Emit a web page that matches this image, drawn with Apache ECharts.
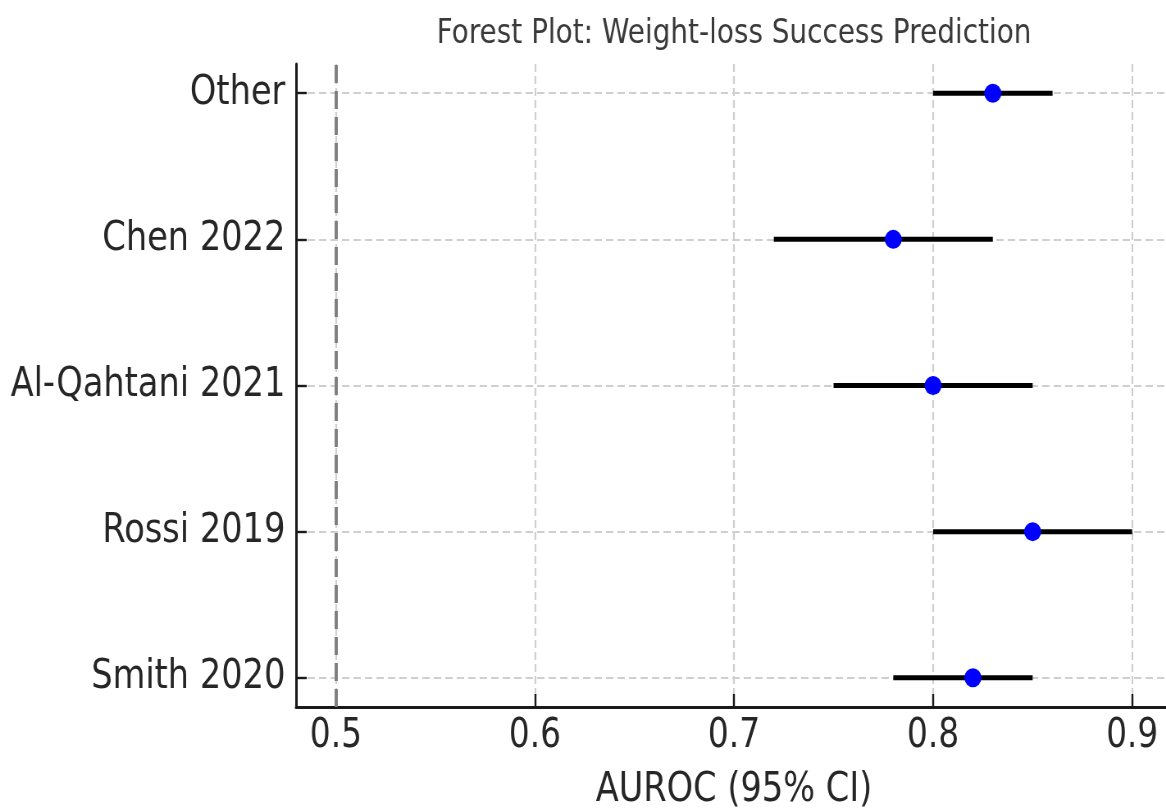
<!DOCTYPE html>
<html>
<head>
<meta charset="utf-8">
<title>Forest Plot: Weight-loss Success Prediction</title>
<script src="https://cdn.jsdelivr.net/npm/echarts@6/dist/echarts.min.js"></script>
<style>
  html, body { margin: 0; padding: 0; background: #fff; overflow: hidden; }
  /* The plot is laid out on a wider canvas and then condensed horizontally */
  #frame { width: 1166px; height: 808px; overflow: hidden; position: relative; }
  #chart { width: 1422px; height: 808px; transform: scaleX(0.82); transform-origin: 0 0; }
</style>
</head>
<body>
<div id="frame"><div id="chart"></div></div>
<script>
// Studies listed bottom-to-top along the y axis
const studies = ['Smith 2020', 'Rossi 2019', 'Al-Qahtani 2021', 'Chen 2022', 'Other'];
const auroc   = [0.82, 0.85, 0.80, 0.78, 0.83];
const ciLow   = [0.78, 0.80, 0.75, 0.72, 0.80];
const ciHigh  = [0.85, 0.90, 0.85, 0.83, 0.86];
const xTicks  = [0.5, 0.6, 0.7, 0.8, 0.9];
const yTicks  = [0, 1, 2, 3, 4];
const chanceLevel = 0.5;

const SX = 0.82;            // horizontal condensing applied to #chart
const FONT = 'DejaVu Sans';

const intervals = studies.map((s, i) => [ciLow[i], ciHigh[i], i]);
const points = studies.map((s, i) => [auroc[i], i]);

const chart = echarts.init(document.getElementById('chart'), null, { renderer: 'canvas' });

chart.setOption({
  animation: false,
  backgroundColor: '#ffffff',
  title: {
    text: 'Forest Plot: Weight-loss Success Prediction',
    left: 734 / SX,
    textAlign: 'center',
    top: 17,
    padding: 0,
    textStyle: { fontFamily: FONT, fontSize: 34, fontWeight: 'normal', color: '#3a3a3a' }
  },
  grid: {
    left: 296 / SX,
    top: 64,
    width: 876 / SX,
    height: 643,
    containLabel: false,
    outerBoundsMode: 'none'
  },
  xAxis: {
    type: 'value',
    min: 0.48,
    max: 0.92,
    name: 'AUROC (95% CI)',
    nameLocation: 'middle',
    nameGap: 63,
    nameTextStyle: { fontFamily: FONT, fontSize: 41, color: '#262626' },
    axisLine: { show: true, onZero: false, lineStyle: { color: '#1a1a1a', width: 3 } },
    axisTick: { show: true, inside: true, length: 13, customValues: xTicks,
                lineStyle: { color: '#1a1a1a', width: 2.4 } },
    axisLabel: { show: true, customValues: xTicks, margin: 10,
                 fontFamily: FONT, fontSize: 40, color: '#262626',
                 formatter: v => Number(v).toFixed(1) },
    splitLine: { show: true, lineStyle: { color: '#cfcfcf', width: 2.2, type: [8, 4] } }
  },
  yAxis: {
    type: 'value',
    min: -0.2,
    max: 4.2,
    axisLine: { show: true, onZero: false, lineStyle: { color: '#1a1a1a', width: 3 } },
    axisTick: { show: true, inside: true, length: 13, customValues: yTicks,
                lineStyle: { color: '#1a1a1a', width: 2.4 } },
    axisLabel: { show: true, customValues: yTicks, margin: 13, padding: [5, 0, 0, 0],
                 fontFamily: FONT, fontSize: 41, color: '#262626',
                 formatter: v => studies[Math.round(v)] },
    splitLine: { show: true, lineStyle: { color: '#cfcfcf', width: 1.8, type: [9, 5] } }
  },
  series: [
    {
      // 95% confidence intervals as horizontal bars
      type: 'custom',
      name: 'CI',
      data: intervals,
      z: 3,
      renderItem: function (params, api) {
        const a = api.coord([api.value(0), api.value(2)]);
        const b = api.coord([api.value(1), api.value(2)]);
        return {
          type: 'line',
          shape: { x1: a[0], y1: a[1], x2: b[0], y2: b[1] },
          style: { stroke: '#000000', lineWidth: 5, lineCap: 'butt' }
        };
      },
      encode: { x: [0, 1], y: 2 }
    },
    {
      // point estimates
      type: 'scatter',
      name: 'AUROC',
      data: points,
      symbol: 'circle',
      symbolSize: [17 / SX, 19],
      itemStyle: { color: '#0000ff', opacity: 1 },
      z: 4,
      markLine: {
        silent: true,
        symbol: 'none',
        label: { show: false },
        lineStyle: { color: '#7f7f7f', width: 3.2 / SX, type: [18, 8] },
        data: [{ xAxis: chanceLevel }],
        z: 2
      }
    }
  ]
});
</script>
</body>
</html>
